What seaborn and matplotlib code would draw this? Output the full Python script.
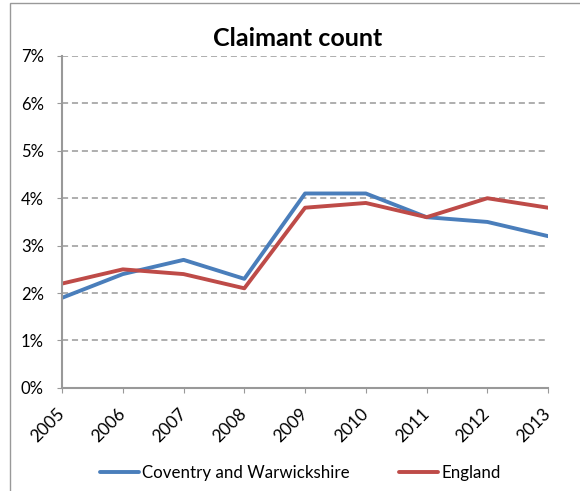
import matplotlib
matplotlib.use("Agg")
import matplotlib.pyplot as plt
from matplotlib.patches import Rectangle
from matplotlib.ticker import FuncFormatter
import pandas as pd
import seaborn as sns

years = [2005, 2006, 2007, 2008, 2009, 2010, 2011, 2012, 2013]
coventry = [1.9, 2.4, 2.7, 2.3, 4.1, 4.1, 3.6, 3.5, 3.2]
england = [2.2, 2.5, 2.4, 2.1, 3.8, 3.9, 3.6, 4.0, 3.8]
series_names = ["Coventry and Warwickshire", "England"]
colors = ["#4a7ebb", "#be4b48"]

df = pd.DataFrame({
    "year": years * 2,
    "value": coventry + england,
    "series": [series_names[0]] * len(years) + [series_names[1]] * len(years),
})

sns.set_style("white")
plt.rcParams["font.family"] = ["Lato", "DejaVu Sans"]
plt.rcParams["text.color"] = "black"
plt.rcParams["xtick.color"] = "black"
plt.rcParams["ytick.color"] = "black"

fig = plt.figure(figsize=(5.8, 4.91), dpi=100)
ax = fig.add_axes([0.107, 0.21, 0.838, 0.676])

sns.lineplot(data=df, x="year", y="value", hue="series",
             palette=colors, linewidth=2.8, ax=ax)

ax.set_xlim(years[0], years[-1])
ax.set_ylim(0, 7)
ax.set_xticks(years)
ax.set_xticklabels([str(y) for y in years], rotation=45, fontsize=12.5,
                   ha="right", va="center", rotation_mode="anchor")
ax.set_yticks(range(0, 8))
ax.yaxis.set_major_formatter(FuncFormatter(lambda v, p: f"{int(v)}%"))
ax.tick_params(axis="y", labelsize=12, length=3.6, color="#999999",
               direction="out", left=True, pad=9.5)
ax.tick_params(axis="x", length=3.6, color="#999999", direction="out",
               bottom=True, pad=13)

ax.grid(axis="y", linestyle=(0, (4, 2.5)), color="#999999", linewidth=1.1)
ax.set_axisbelow(True)
for side in ["top", "right"]:
    ax.spines[side].set_visible(False)
for side in ["left", "bottom"]:
    ax.spines[side].set_color("#999999")
    ax.spines[side].set_linewidth(1.5)

ax.set_xlabel("")
ax.set_ylabel("")
ax.set_title("Claimant count", fontsize=18, fontweight="bold", pad=7, x=0.484)

handles, labels = ax.get_legend_handles_labels()
ax.legend(handles, labels, loc="upper center", bbox_to_anchor=(0.49, -0.185),
          ncol=2, frameon=False, fontsize=12.2, handlelength=2.3,
          columnspacing=2.9, handletextpad=0.2)

fig.add_artist(Rectangle((0.017, -0.01), 1.0, 1.004, transform=fig.transFigure,
                         fill=False, edgecolor="#999999", linewidth=1))

fig.savefig("out.png", dpi=100)
